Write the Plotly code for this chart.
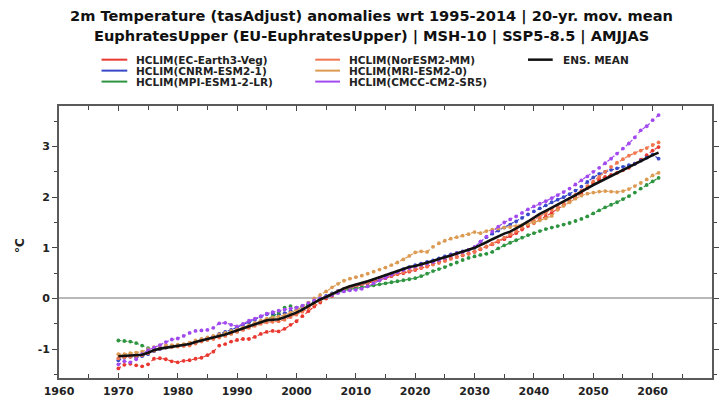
import plotly.graph_objects as go

years = list(range(1970, 2062))

ec_earth = [-1.38, -1.31, -1.29, -1.32, -1.34, -1.30, -1.19, -1.18, -1.20, -1.24,
            -1.26, -1.23, -1.22, -1.19, -1.17, -1.12, -1.05, -0.93, -0.90, -0.85,
            -0.82, -0.80, -0.80, -0.76, -0.70, -0.66, -0.64, -0.65, -0.60, -0.52,
            -0.45, -0.35, -0.25, -0.16, -0.08, 0.00, 0.05, 0.12, 0.17, 0.21,
            0.24, 0.27, 0.30, 0.33, 0.36, 0.40, 0.44, 0.48, 0.50, 0.53,
            0.56, 0.60, 0.63, 0.68, 0.72, 0.75, 0.79, 0.82, 0.85, 0.88,
            0.92, 0.97, 1.02, 1.07, 1.12, 1.17, 1.23, 1.29, 1.36, 1.43,
            1.49, 1.56, 1.62, 1.69, 1.76, 1.84, 1.92, 2.00, 2.08, 2.18,
            2.27, 2.35, 2.40, 2.44, 2.48, 2.53, 2.58, 2.66, 2.74, 2.83,
            2.92, 2.99]

cnrm = [-1.22, -1.17, -1.15, -1.16, -1.14, -1.10, -1.04, -1.00, -0.97, -0.95,
        -0.93, -0.91, -0.88, -0.85, -0.81, -0.78, -0.75, -0.70, -0.66, -0.62,
        -0.57, -0.52, -0.47, -0.42, -0.36, -0.31, -0.30, -0.32, -0.29, -0.25,
        -0.22, -0.18, -0.12, -0.06, 0.00, 0.05, 0.10, 0.15, 0.19, 0.22,
        0.25, 0.29, 0.32, 0.36, 0.40, 0.44, 0.49, 0.53, 0.58, 0.62,
        0.66, 0.69, 0.72, 0.75, 0.79, 0.83, 0.87, 0.90, 0.93, 0.96,
        1.00, 1.12, 1.21, 1.28, 1.34, 1.40, 1.46, 1.52, 1.59, 1.66,
        1.72, 1.78, 1.84, 1.90, 1.95, 2.00, 2.06, 2.13, 2.21, 2.30,
        2.39, 2.46, 2.50, 2.54, 2.57, 2.60, 2.63, 2.66, 2.72, 2.78,
        2.84, 2.76]

mpi = [-0.83, -0.84, -0.85, -0.88, -0.93, -0.98, -1.00, -0.98, -0.96, -0.95,
       -0.93, -0.92, -0.90, -0.87, -0.84, -0.81, -0.79, -0.76, -0.73, -0.69,
       -0.65, -0.61, -0.56, -0.51, -0.46, -0.42, -0.36, -0.28, -0.18, -0.15,
       -0.18, -0.16, -0.12, -0.07, -0.02, 0.03, 0.08, 0.12, 0.16, 0.18,
       0.20, 0.22, 0.24, 0.26, 0.28, 0.30, 0.32, 0.34, 0.36, 0.38,
       0.40, 0.44, 0.49, 0.54, 0.58, 0.62, 0.67, 0.71, 0.76, 0.80,
       0.83, 0.86, 0.88, 0.92, 0.99, 1.05, 1.10, 1.15, 1.20, 1.25,
       1.29, 1.33, 1.37, 1.40, 1.43, 1.46, 1.49, 1.53, 1.57, 1.62,
       1.68, 1.74, 1.80, 1.85, 1.90, 1.96, 2.02, 2.09, 2.17, 2.24,
       2.31, 2.38]

noresm = [-1.18, -1.16, -1.15, -1.14, -1.12, -1.08, -1.03, -0.99, -0.97, -0.96,
          -0.95, -0.94, -0.93, -0.89, -0.85, -0.82, -0.80, -0.77, -0.74, -0.70,
          -0.66, -0.62, -0.58, -0.54, -0.50, -0.47, -0.46, -0.45, -0.42, -0.37,
          -0.32, -0.26, -0.19, -0.11, -0.04, 0.02, 0.08, 0.14, 0.19, 0.23,
          0.26, 0.29, 0.32, 0.36, 0.40, 0.43, 0.46, 0.49, 0.52, 0.55,
          0.58, 0.61, 0.64, 0.67, 0.70, 0.74, 0.78, 0.82, 0.86, 0.89,
          0.93, 0.98, 1.03, 1.08, 1.14, 1.20, 1.27, 1.33, 1.40, 1.47,
          1.54, 1.61, 1.68, 1.75, 1.82, 1.89, 1.97, 2.05, 2.13, 2.22,
          2.31, 2.40, 2.50, 2.60, 2.68, 2.75, 2.82, 2.87, 2.92, 2.97,
          3.03, 3.08]

mri = [-1.10, -1.10, -1.08, -1.07, -1.05, -1.00, -0.96, -0.93, -0.92, -0.92,
       -0.91, -0.90, -0.87, -0.83, -0.80, -0.77, -0.74, -0.71, -0.68, -0.64,
       -0.61, -0.57, -0.53, -0.48, -0.44, -0.40, -0.38, -0.36, -0.33, -0.28,
       -0.23, -0.16, -0.08, 0.00, 0.07, 0.14, 0.22, 0.29, 0.35, 0.39,
       0.42, 0.45, 0.49, 0.53, 0.57, 0.61, 0.66, 0.71, 0.77, 0.84,
       0.91, 0.93, 0.92, 1.02, 1.09, 1.14, 1.18, 1.21, 1.24, 1.27,
       1.31, 1.29, 1.33, 1.36, 1.38, 1.40, 1.41, 1.43, 1.45, 1.47,
       1.50, 1.54, 1.58, 1.63, 1.75, 1.83, 1.90, 1.97, 2.03, 2.07,
       2.09, 2.11, 2.12, 2.11, 2.10, 2.12, 2.16, 2.22, 2.28, 2.35,
       2.43, 2.48]

cmcc = [-1.30, -1.24, -1.26, -1.20, -1.10, -1.02, -0.97, -0.92, -0.86, -0.81,
        -0.79, -0.74, -0.68, -0.64, -0.63, -0.62, -0.58, -0.49, -0.48, -0.52,
        -0.55, -0.50, -0.44, -0.40, -0.35, -0.30, -0.27, -0.24, -0.22, -0.20,
        -0.18, -0.14, -0.09, -0.04, 0.00, 0.03, 0.07, 0.11, 0.14, 0.16,
        0.17, 0.19, 0.24, 0.30, 0.36, 0.41, 0.47, 0.52, 0.56, 0.60,
        0.63, 0.66, 0.69, 0.72, 0.76, 0.80, 0.85, 0.89, 0.92, 0.96,
        1.02, 1.12, 1.22, 1.32, 1.42, 1.50, 1.56, 1.62, 1.69, 1.76,
        1.82, 1.87, 1.92, 1.98, 2.04, 2.10, 2.17, 2.25, 2.33, 2.41,
        2.50, 2.58, 2.67, 2.76, 2.86, 2.96, 3.06, 3.18, 3.32, 3.40,
        3.52, 3.62]

ens_mean = [-1.14, -1.13, -1.13, -1.12, -1.11, -1.07, -1.02, -0.99, -0.97, -0.95,
            -0.93, -0.92, -0.90, -0.86, -0.83, -0.80, -0.78, -0.74, -0.71, -0.67,
            -0.63, -0.59, -0.55, -0.51, -0.47, -0.43, -0.42, -0.41, -0.37, -0.33,
            -0.28, -0.22, -0.15, -0.08, -0.02, 0.03, 0.09, 0.15, 0.20, 0.24,
            0.27, 0.30, 0.34, 0.38, 0.42, 0.45, 0.50, 0.54, 0.58, 0.62,
            0.64, 0.67, 0.70, 0.74, 0.78, 0.81, 0.85, 0.89, 0.92, 0.96,
            1.00, 1.05, 1.11, 1.17, 1.23, 1.28, 1.32, 1.38, 1.45, 1.52,
            1.60, 1.67, 1.73, 1.79, 1.85, 1.91, 1.97, 2.04, 2.11, 2.18,
            2.24, 2.30, 2.36, 2.42, 2.48, 2.54, 2.59, 2.65, 2.71, 2.77,
            2.83, 2.88]

series_names = ["HCLIM(EC-Earth3-Veg)", "HCLIM(CNRM-ESM2-1)", "HCLIM(MPI-ESM1-2-LR)",
                "HCLIM(NorESM2-MM)", "HCLIM(MRI-ESM2-0)", "HCLIM(CMCC-CM2-SR5)"]
series_values = [ec_earth, cnrm, mpi, noresm, mri, cmcc]
series_colors = ["#e8382f", "#3848c8", "#2e9440", "#f07650", "#dc9a52", "#a24af0"]

y_tickvals = [-1, 0, 1, 2, 3]
y_ticktext = ["-1", "0", "1", "2", "3"]

title1 = "2m Temperature (tasAdjust) anomalies wrt 1995-2014 | 20-yr. mov. mean"
title2 = "EuphratesUpper (EU-EuphratesUpper) | MSH-10 | SSP5-8.5 | AMJJAS"

FONT = "DejaVu Sans"

fig = go.Figure()
for name, vals, col in zip(series_names, series_values, series_colors):
    fig.add_trace(go.Scatter(
        x=years, y=vals, mode="lines+markers", name=name,
        line=dict(color=col, width=1.2, dash="dot"),
        marker=dict(color=col, size=3.8),
        showlegend=False, hoverinfo="skip"))

fig.add_trace(go.Scatter(
    x=years, y=ens_mean, mode="lines", name="ENS. MEAN",
    line=dict(color="#111111", width=2.6), showlegend=False, hoverinfo="skip"))

# plot area geometry in pixels (for legend placement in paper coords)
L, R, T, B = 59, 719, 106, 379
W, H = R - L, B - T
def px(x):
    return (x - L) / W
def py(y):
    return (B - y) / H

# legend (manual, three columns)
legend_cols = [
    (102, 128, 135, series_names[0:3], series_colors[0:3]),
    (318, 343, 350, series_names[3:6], series_colors[3:6]),
    (533, 558, 566, ["ENS. MEAN"], ["#111111"]),
]
row_y = [59.5, 70.5, 81.5]
for x0, x1, xt, names, cols in legend_cols:
    for i, (nm, c) in enumerate(zip(names, cols)):
        fig.add_shape(type="line", xref="paper", yref="paper",
                      x0=px(x0), x1=px(x1), y0=py(row_y[i]), y1=py(row_y[i]),
                      line=dict(color=c, width=2.5 if nm == "ENS. MEAN" else 2))
        fig.add_annotation(x=px(xt), y=py(row_y[i]), xref="paper", yref="paper",
                           text=nm, showarrow=False, xanchor="left", yanchor="middle",
                           font=dict(family=FONT, size=10.5, color="#222", weight="bold"))

fig.add_annotation(x=px(375), y=py(16), xref="paper", yref="paper", text=title1,
                   showarrow=False, xanchor="center", yanchor="middle",
                   font=dict(family=FONT, size=14.6, color="#111", weight="bold"))
fig.add_annotation(x=px(375), y=py(36), xref="paper", yref="paper", text=title2,
                   showarrow=False, xanchor="center", yanchor="middle",
                   font=dict(family=FONT, size=14.6, color="#111", weight="bold"))
fig.add_annotation(x=px(20), y=py(246), xref="paper", yref="paper", text="°C",
                   showarrow=False, textangle=-90, xanchor="center", yanchor="middle",
                   font=dict(family=FONT, size=12, color="#222", weight="bold"))

tickfont = dict(family=FONT, size=11, color="#222", weight="bold")
fig.update_xaxes(range=[1960, 2070], dtick=10, tick0=1960, ticks="inside", ticklen=5,
                 tickwidth=1.2, tickcolor="#444", showline=True, linecolor="#5a5a5a",
                 linewidth=1.8, mirror="ticks", showgrid=False, zeroline=False,
                 tickfont=tickfont, ticklabelstandoff=2,
                 minor=dict(dtick=5, tick0=1960, ticks="inside", ticklen=4,
                            tickcolor="#444", showgrid=False))
fig.update_yaxes(range=[-1.57, 3.80], tickvals=y_tickvals, ticktext=y_ticktext,
                 ticks="outside", ticklen=5,
                 tickwidth=1.2, tickcolor="#444", showline=True, linecolor="#5a5a5a",
                 linewidth=1.8, mirror="ticks", showgrid=False, zeroline=True,
                 zerolinecolor="#b8b8b8", zerolinewidth=2,
                 tickfont=tickfont,
                 minor=dict(dtick=0.5, tick0=0, ticks="outside", ticklen=3,
                            tickcolor="#444", showgrid=False))

fig.update_layout(width=722, height=401, margin=dict(l=L, r=722 - R, t=T, b=401 - B),
                  paper_bgcolor="white", plot_bgcolor="white", showlegend=False)

fig.write_html("out.html")
